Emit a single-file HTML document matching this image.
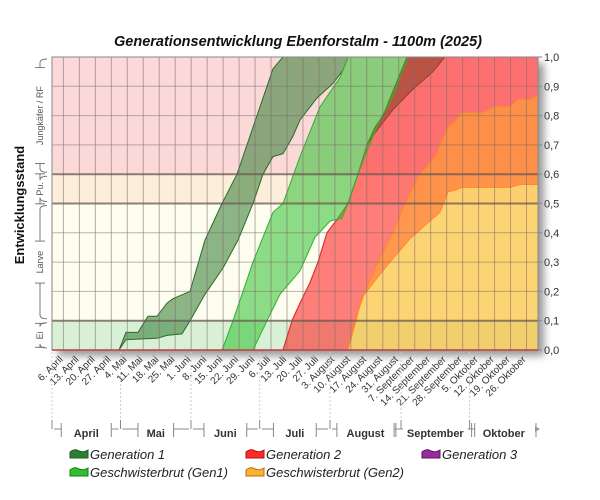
<!DOCTYPE html>
<html><head><meta charset="utf-8"><style>
html,body{margin:0;padding:0;background:#fff;}
svg{display:block;font-family:"Liberation Sans",sans-serif;}
</style></head><body>
<svg id="c" width="600" height="500" xmlns="http://www.w3.org/2000/svg">
<defs>
<filter id="sh" x="-10%" y="-10%" width="130%" height="130%"><feGaussianBlur stdDeviation="4"/></filter>
<clipPath id="pc"><rect x="52" y="57" width="486" height="293"/></clipPath>
</defs>
<text x="298" y="46" text-anchor="middle" font-size="14.5" font-weight="bold" font-style="italic" fill="#111">Generationsentwicklung Ebenforstalm - 1100m (2025)</text>
<rect x="58" y="63" width="486" height="293" fill="#999" filter="url(#sh)"/>
<g id="plot" clip-path="url(#pc)"></g>
<g id="ax"></g>
</svg>
<script>
var NS="http://www.w3.org/2000/svg";
function Y(v){return 350-293*v;}
function el(p,t,a,txt){var e=document.createElementNS(NS,t);for(var k in a)e.setAttribute(k,a[k]);if(txt!=null)e.textContent=txt;p.appendChild(e);return e;}
var P=document.getElementById('plot'),A=document.getElementById('ax');
// bands
el(P,'rect',{x:52,y:Y(0.1),width:486,height:293*0.1,fill:'#d8f0d6'});
el(P,'rect',{x:52,y:Y(0.5),width:486,height:293*0.4,fill:'#fdfdf0'});
el(P,'rect',{x:52,y:Y(0.6),width:486,height:293*0.1,fill:'#fdeedc'});
el(P,'rect',{x:52,y:Y(1),width:486,height:293*0.4,fill:'#fbd9d9'});
function pts(a){return a.map(function(p){return p[0]+','+Y(p[1]).toFixed(1);}).join(' ');}
var redU=[[283,0],[292,0.1],[300,0.16],[310,0.23],[318,0.3],[327,0.4],[338,0.45],[348,0.5],[358,0.6],[367,0.7],[375,0.76],[383,0.8],[395,0.9],[407,1.0]];
var orU=[[348,0],[355,0.1],[365,0.2],[378,0.3],[393,0.4],[405,0.5],[420,0.6],[435,0.66],[448,0.76],[455,0.78],[462,0.81],[483,0.81],[495,0.83],[510,0.83],[518,0.855],[530,0.855],[538,0.87]];
var orL=[[348,0],[356,0.1],[362,0.18],[378,0.25],[390,0.3],[410,0.38],[433,0.45],[440,0.47],[448,0.54],[455,0.545],[462,0.555],[510,0.555],[520,0.565],[538,0.565]];
var g1U=[[119,0],[126,0.06],[138,0.06],[148,0.115],[157,0.115],[167,0.16],[173,0.175],[190,0.2],[205,0.375],[222,0.5],[237,0.6],[257,0.8],[265,0.88],[273,0.96],[283,1.0]];
var g1L=[[119,0],[126,0.035],[157,0.04],[167,0.05],[182,0.055],[190,0.1],[205,0.19],[223,0.28],[238,0.375],[253,0.5],[263,0.6],[273,0.66],[283,0.67],[293,0.73],[300,0.785],[317,0.86],[333,0.91],[343,0.955],[348,1.0]];
var g2U=[[222,0],[233,0.1],[253,0.3],[273,0.47],[283,0.5],[300,0.66],[320,0.83],[330,0.88],[340,0.93],[348,1.0]];
var g2L=[[253,0],[267,0.1],[280,0.19],[300,0.27],[315,0.385],[330,0.44],[342,0.45],[348,0.5],[358,0.6],[367,0.68],[380,0.785],[392,0.86],[400,0.93],[408,1.0]];
var brL=[[367,0.7],[377,0.75],[393,0.82],[413,0.89],[433,0.95],[445,1.0]];
// red
el(P,'polygon',{points:pts(redU.concat([[538,1],[538,0.87]]).concat(orU.slice().reverse())),fill:'#ff2a2a','fill-opacity':0.6});
el(P,'polyline',{points:pts(redU),fill:'none',stroke:'#e03030','stroke-width':1.2});
// brown
var bU=redU.filter(function(p){return p[0]>=367;});
el(P,'polygon',{points:pts(bU.concat(brL.slice().reverse())),fill:'#6a3010','fill-opacity':0.45,stroke:'#8a3a20','stroke-width':0.8});
// yellow
el(P,'polygon',{points:pts(orL.concat([[538,0]])),fill:'#fcbf3a','fill-opacity':0.68});
// orange
el(P,'polygon',{points:pts(orU.concat(orL.slice().reverse())),fill:'#ff7a20','fill-opacity':0.78,stroke:'#ff8a20','stroke-width':1});
// greens
el(P,'polygon',{points:pts(g1U.concat(g1L.slice().reverse())),fill:'#2f7a2f','fill-opacity':0.55,stroke:'#2a6a2a','stroke-width':1});
el(P,'polygon',{points:pts(g2U.concat(g2L.slice().reverse())),fill:'#30c030','fill-opacity':0.55,stroke:'#30b030','stroke-width':1});
// grid
for(var k=0;k<30;k++){var x=63.4+15.97*k;el(P,'line',{x1:x,y1:57,x2:x,y2:350,stroke:'#7a6a6a','stroke-opacity':0.55,'stroke-width':1});}
for(var i=1;i<10;i++){var th=(i==1||i==5||i==6);el(P,'line',{x1:52,y1:Y(i/10),x2:538,y2:Y(i/10),stroke:th?'#6a5a50':'#7a6a6a','stroke-opacity':th?0.75:0.5,'stroke-width':th?2:1});}
el(A,'rect',{x:52,y:57,width:486,height:293,fill:'none',stroke:'#888','stroke-width':1});
el(A,'line',{x1:52,y1:350,x2:538,y2:350,stroke:'#c04040','stroke-width':1.5});
// right axis
for(var i=0;i<=10;i++){var y=Y(i/10);el(A,'line',{x1:538,y1:y,x2:542,y2:y,stroke:'#888'});el(A,'text',{x:544,y:y+4,'font-size':11,fill:'#333'},(i/10).toFixed(1).replace('.',','));}
// x labels
var labs=["6. April","13. April","20. April","27. April","4. Mai","11. Mai","18. Mai","25. Mai","1. Juni","8. Juni","15. Juni","22. Juni","29. Juni","6. Juli","13. Juli","20. Juli","27. Juli","3. August","10. August","17. August","24. August","31. August","7. September","14. September","21. September","28. September","5. Oktober","12. Oktober","19. Oktober","26. Oktober"];
labs.forEach(function(l,k){var x=63.4+15.97*k;el(A,'text',{x:x,y:360,'font-size':10,fill:'#333','text-anchor':'end',transform:'rotate(-45 '+x+' 360)'},l);});
// months
var mb=[52,120.5,191,259.7,330,401,469.6,538];var mn=["April","Mai","Juni","Juli","August","September","Oktober"];
mb.slice(0,7).forEach(function(x){el(A,'line',{x1:x,y1:352,x2:x,y2:420,stroke:'#ccc','stroke-dasharray':'2,2'});el(A,'line',{x1:x,y1:420,x2:x,y2:429,stroke:'#888'});});
mn.forEach(function(n,i){var c=(mb[i]+mb[i+1])/2;var w=n.length*7.2+14;var t=el(A,'text',{x:c,y:437,'font-size':11,'font-weight':'bold',fill:'#333','text-anchor':'middle'},n);
el(A,'line',{x1:mb[i]+2,y1:429,x2:c-w/2,y2:429,stroke:'#888'});el(A,'line',{x1:c+w/2,y1:429,x2:mb[i+1]-2,y2:429,stroke:'#888'});
el(A,'line',{x1:c-w/2,y1:423,x2:c-w/2,y2:437,stroke:'#888'});el(A,'line',{x1:c+w/2,y1:423,x2:c+w/2,y2:437,stroke:'#888'});});
el(A,'polygon',{points:'535,426 540,429 535,432',fill:'#999'});
// left annotations
var lt=el(A,'text',{x:24,y:205,'font-size':13,'font-weight':'bold',fill:'#111','text-anchor':'middle',transform:'rotate(-90 24 205)'},'Entwicklungsstand');
var segs=[[0,0.1,'Ei'],[0.1,0.5,'Larve'],[0.5,0.6,'Pu.'],[0.6,1.0,'Jungkäfer / RF']];
segs.forEach(function(s){var y1=Y(s[1]),y2=Y(s[0]),c=(y1+y2)/2,h=s[2].length*3+6;
el(A,'path',{d:'M47 '+(y1+2)+' Q40 '+(y1+2)+' 40 '+(y1+6)+' L40 '+(c-h)+' M40 '+(c+h)+' L40 '+(y2-6)+' Q40 '+(y2-2)+' 47 '+(y2-2),fill:'none',stroke:'#777','stroke-width':1});
el(A,'line',{x1:35,y1:c-h,x2:45,y2:c-h,stroke:'#777'});el(A,'line',{x1:35,y1:c+h,x2:45,y2:c+h,stroke:'#777'});
el(A,'text',{x:40,y:c+3,'font-size':9,fill:'#555','text-anchor':'middle',transform:'rotate(-90 40 '+c+')'},s[2]);});
// legend
var lg=[[70,455,'#2e7d32','#1b5e20','Generation 1'],[246,455,'#ff2a2a','#b01010','Generation 2'],[422,455,'#9a2aa0','#5a105a','Generation 3'],[70,473,'#30c030','#1a7a1a','Geschwisterbrut (Gen1)'],[246,473,'#ffb030','#b07010','Geschwisterbrut (Gen2)']];
lg.forEach(function(g){var x=g[0],y=g[1];el(A,'path',{d:'M'+x+' '+(y+3)+' L'+x+' '+(y-3)+' Q'+(x+5)+' '+(y-7)+' '+(x+9)+' '+(y-4)+' Q'+(x+13)+' '+(y-2)+' '+(x+18)+' '+(y-5)+' L'+(x+18)+' '+(y+3)+' Z',fill:g[2],stroke:g[3],'stroke-width':1});
el(A,'text',{x:x+20,y:y+4,'font-size':13,'font-style':'italic',fill:'#222'},g[4]);});
</script>
</body></html>
